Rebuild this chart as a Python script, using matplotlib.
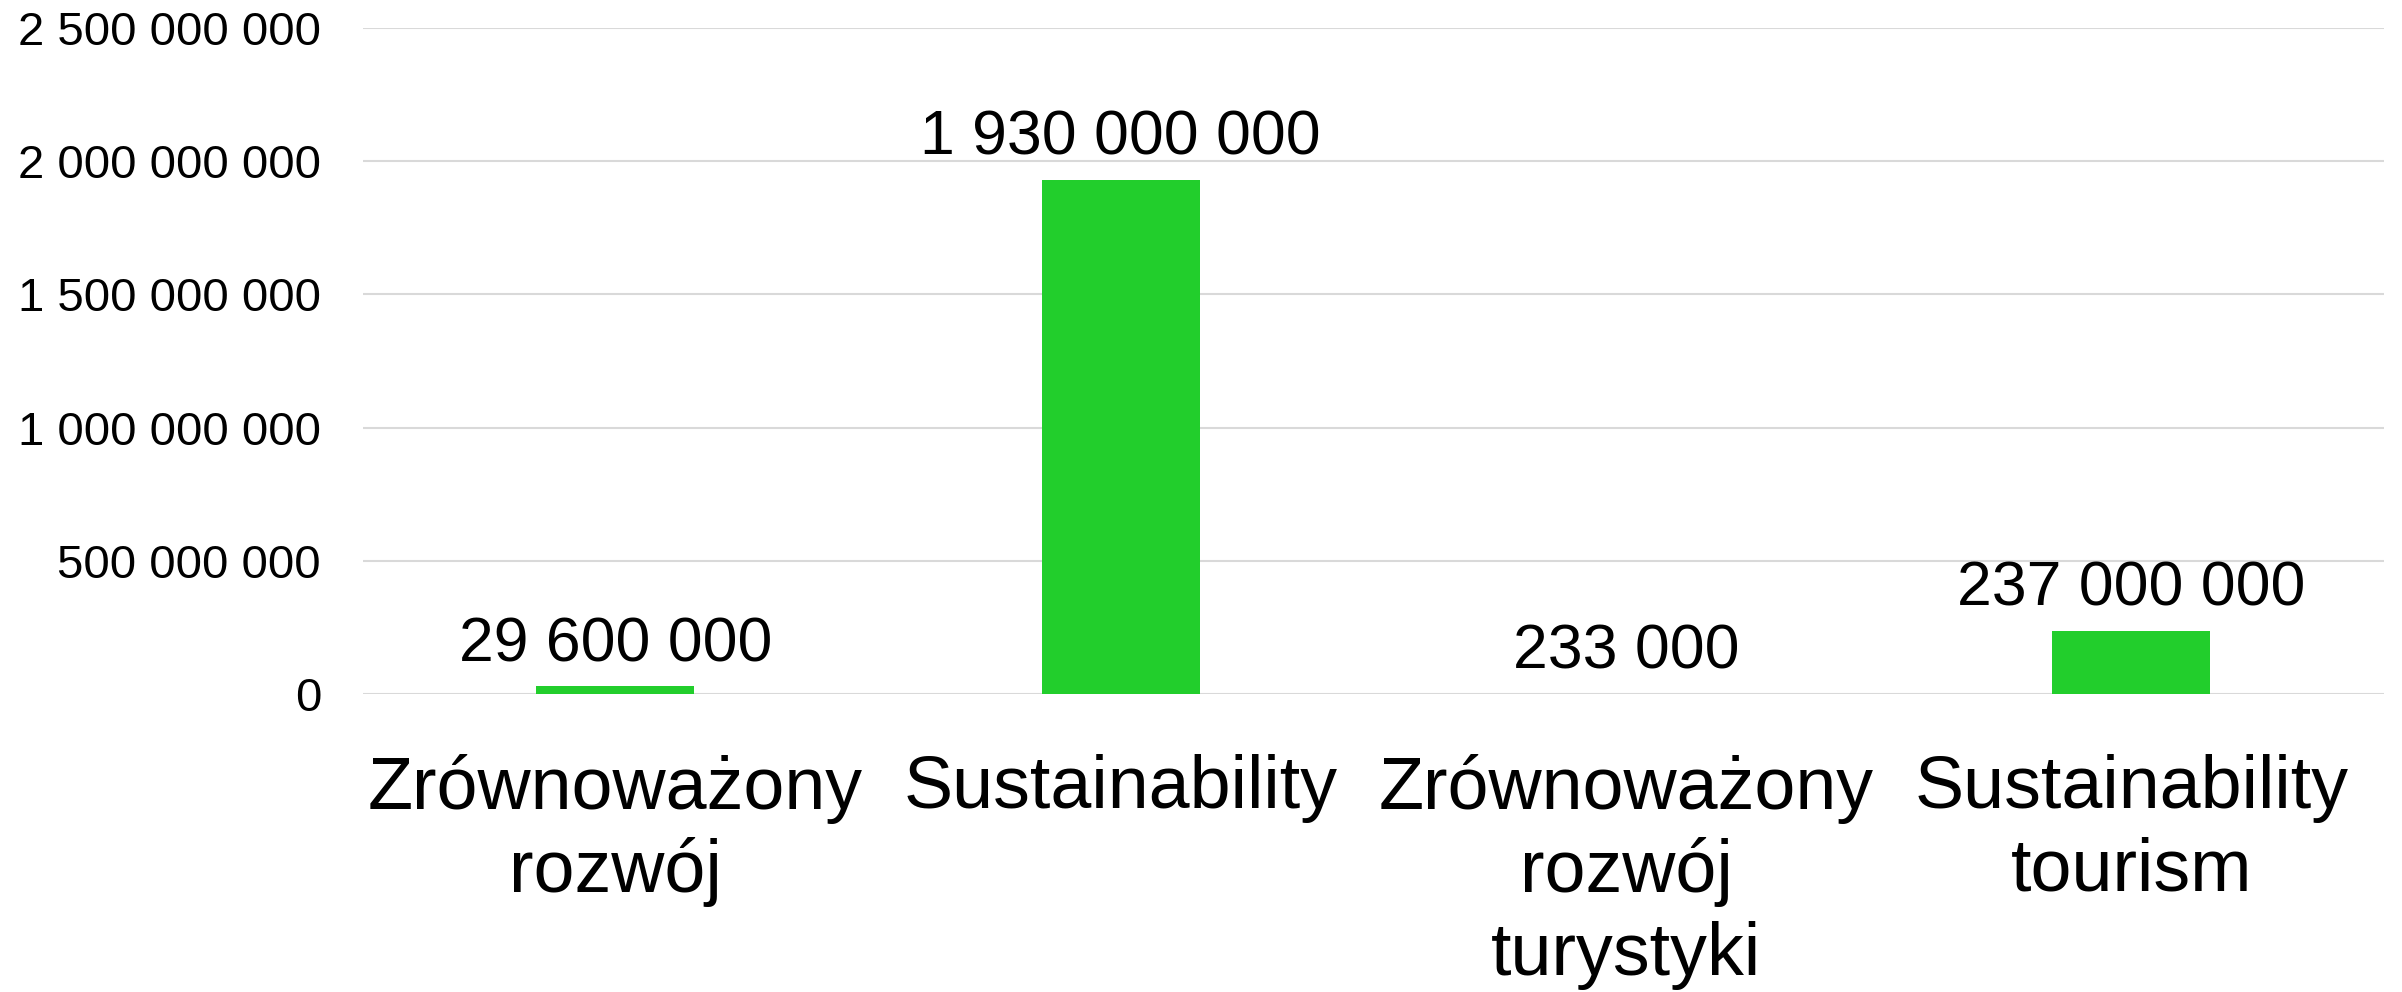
import matplotlib
matplotlib.use('Agg')
import matplotlib.pyplot as plt
from matplotlib.ticker import FuncFormatter

categories = ['Zrównoważony\nrozwój', 'Sustainability', 'Zrównoważony\nrozwój\nturystyki', 'Sustainability\ntourism']
values = [29600000, 1930000000, 233000, 237000000]
yticks = [0, 500000000, 1000000000, 1500000000, 2000000000, 2500000000]


def spaced(v):
    return f"{int(v):,}".replace(',', ' ')


plt.rcParams['font.family'] = ['Liberation Sans', 'DejaVu Sans']

fig = plt.figure(figsize=(24.02, 9.92), dpi=100)
ax = fig.add_axes([0.151, 0.3004, 0.8415, 0.6716])

x = list(range(len(categories)))
bars = ax.bar(x, values, width=0.313, color='#22CE2C', zorder=3)

ax.set_xlim(-0.5, len(categories) - 0.5)
ax.set_ylim(0, 2500000000)
ax.set_yticks(yticks)
ax.yaxis.set_major_formatter(FuncFormatter(lambda v, p: spaced(v)))
ax.grid(axis='y', color='#d9d9d9', linewidth=1.5, zorder=0)
ax.set_axisbelow(True)

for s in ax.spines.values():
    s.set_visible(False)

ax.tick_params(axis='y', length=0, pad=30, labelsize=34)
ax.tick_params(axis='x', length=0, pad=43, labelsize=53)
ax.set_xticks(x)
ax.set_xticklabels(categories, linespacing=1.25, va='top')

for b, v in zip(bars, values):
    ax.annotate(spaced(v), (b.get_x() + b.get_width() / 2, v),
                xytext=(0, 18), textcoords='offset points',
                ha='center', va='baseline', fontsize=45)

fig.savefig('out.png', dpi=100)
